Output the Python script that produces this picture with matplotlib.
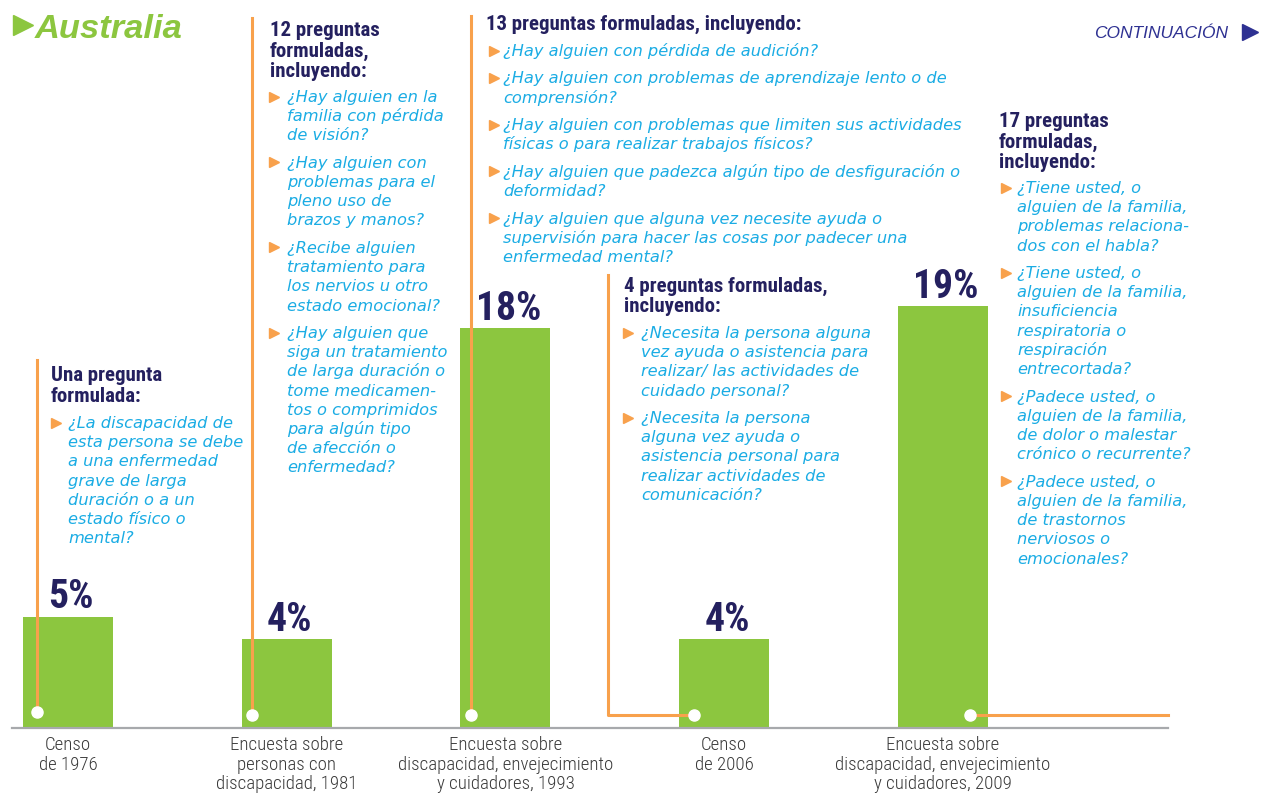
import matplotlib
matplotlib.use("Agg")
import matplotlib.pyplot as plt
import matplotlib.transforms as mtransforms
from matplotlib.lines import Line2D

W, H = 1262, 795

categories = [
    "Censo\nde 1976",
    "Encuesta sobre\npersonas con\ndiscapacidad, 1981",
    "Encuesta sobre\ndiscapacidad, envejecimiento\ny cuidadores, 1993",
    "Censo\nde 2006",
    "Encuesta sobre\ndiscapacidad, envejecimiento\ny cuidadores, 2009",
]
values = [5, 4, 18, 4, 19]
value_labels = ["5%", "4%", "18%", "4%", "19%"]

headings = [
    ["Una pregunta", "formulada:"],
    ["12 preguntas", "formuladas,", "incluyendo:"],
    ["13 preguntas formuladas, incluyendo:"],
    ["4 preguntas formuladas,", "incluyendo:"],
    ["17 preguntas", "formuladas,", "incluyendo:"],
]
questions = [
    [["¿La discapacidad de", "esta persona se debe", "a una enfermedad",
      "grave de larga", "duración o a un", "estado físico o", "mental?"]],
    [["¿Hay alguien en la", "familia con pérdida", "de visión?"],
     ["¿Hay alguien con", "problemas para el", "pleno uso de", "brazos y manos?"],
     ["¿Recibe alguien", "tratamiento para", "los nervios u otro", "estado emocional?"],
     ["¿Hay alguien que", "siga un tratamiento", "de larga duración o", "tome medicamen-",
      "tos o comprimidos", "para algún tipo", "de afección o", "enfermedad?"]],
    [["¿Hay alguien con pérdida de audición?"],
     ["¿Hay alguien con problemas de aprendizaje lento o de", "comprensión?"],
     ["¿Hay alguien con problemas que limiten sus actividades",
      "físicas o para realizar trabajos físicos?"],
     ["¿Hay alguien que padezca algún tipo de desfiguración o", "deformidad?"],
     ["¿Hay alguien que alguna vez necesite ayuda o",
      "supervisión para hacer las cosas por padecer una", "enfermedad mental?"]],
    [["¿Necesita la persona alguna", "vez ayuda o asistencia para",
      "realizar/ las actividades de", "cuidado personal?"],
     ["¿Necesita la persona", "alguna vez ayuda o", "asistencia personal para",
      "realizar actividades de", "comunicación?"]],
    [["¿Tiene usted, o", "alguien de la familia,", "problemas relaciona-", "dos con el habla?"],
     ["¿Tiene usted, o", "alguien de la familia,", "insuficiencia", "respiratoria o",
      "respiración", "entrecortada?"],
     ["¿Padece usted, o", "alguien de la familia,", "de dolor o malestar",
      "crónico o recurrente?"],
     ["¿Padece usted, o", "alguien de la familia,", "de trastornos", "nerviosos o",
      "emocionales?"]],
]

GREEN = "#8CC63F"
ORANGE = "#F8A14C"
NAVY = "#24205F"
BLUE = "#2E3192"
CYAN = "#1AACE4"
GRAY = "#A7A9AC"
NARROW = ["Roboto Condensed", "DejaVu Sans"]

fig = plt.figure(figsize=(W / 100, H / 100), dpi=100, facecolor="white")
# pixel coordinates measured from the top-left corner
px = mtransforms.Affine2D().scale(1 / W, -1 / H).translate(0, 1) + fig.transFigure

base = 727.5
left, right = 12, 1168
ax = fig.add_axes([left / W, (H - base) / H, (right - left) / W, base / H])
ax.set_facecolor("none")
step = 218.75
c0 = 68
ax.set_xlim((left - c0) / step, (right - c0) / step)
ax.set_ylim(0, base / 22.2)

x = list(range(len(values)))
bars = ax.bar(x, values, width=90 / step, color=GREEN, zorder=2)
for b, lab in zip(bars, value_labels):
    ax.annotate(lab, (b.get_x() + b.get_width() / 2, b.get_height()),
                xytext=(2, 5.8), textcoords="offset points", ha="center", va="baseline",
                fontsize=28.5, fontweight="bold", family=NARROW,
                color=NAVY, annotation_clip=False, zorder=5)

ax.set_xticks(x)
ax.set_xticklabels(categories, family=NARROW, fontweight="light", fontsize=13.6,
                   color="#3A3A3A", linespacing=1.12)
ax.tick_params(axis="x", length=0, pad=6)
ax.set_yticks([])
for s in ["top", "left", "right"]:
    ax.spines[s].set_visible(False)
ax.spines["bottom"].set_color(GRAY)
ax.spines["bottom"].set_linewidth(1.6)

# orange leader lines and white dots
leaders = [
    ([37, 37], [360, 712]),
    ([252, 252], [18, 715]),
    ([471, 471], [16, 715]),
    ([608, 608, 694], [275, 715, 715]),
    ([970, 1168], [715, 715]),
]
dots = [(37, 712), (252, 715), (471, 715), (694, 715), (970, 715)]
for lx, ly in leaders:
    fig.add_artist(Line2D(lx, ly, color=ORANGE, lw=2.2, transform=px, zorder=3))
for dx, dy in dots:
    fig.add_artist(Line2D([dx], [dy], marker="o", ms=8, color="white", mec="white",
                          transform=px, zorder=6))


def block(hx, hy, head, bx, tx, ty, paras):
    for i, line in enumerate(head):
        fig.text(hx, hy + i * 20.5, line, transform=px, family=NARROW,
                 fontweight="bold", fontsize=15, color=NAVY, va="baseline")
    y = ty
    for para in paras:
        fig.add_artist(Line2D([bx], [y - 5.5], marker=">", ms=7.5, color=ORANGE,
                              mec=ORANGE, transform=px))
        for line in para:
            fig.text(tx, y, line, transform=px, family="DejaVu Sans", style="italic",
                     fontsize=11.7, color=CYAN, va="baseline")
            y += 19.2
        y += 27.5 - 19.2


block(51, 381, headings[0], 55.5, 68, 428, questions[0])
block(270, 36, headings[1], 273.5, 287, 102, questions[1])
block(486, 30, headings[2], 494, 503, 56, questions[2])
block(624, 292, headings[3], 628, 641, 338, questions[3])
block(999, 127, headings[4], 1006, 1017, 193, questions[4])

# header
fig.add_artist(Line2D([22.5], [25], marker=">", ms=14.5, color=GREEN, mec=GREEN,
                      transform=px))
fig.text(35, 38, "Australia", transform=px, family="Liberation Sans", fontsize=24.8,
         fontweight="bold", style="italic", color=GREEN, va="baseline")
fig.text(1228, 38.5, "CONTINUACIÓN", transform=px, family="Liberation Sans", fontsize=12.5,
         style="italic", color=BLUE, va="baseline", ha="right")
fig.add_artist(Line2D([1250], [31.5], marker=">", ms=11, color=BLUE, mec=BLUE,
                      transform=px))

fig.savefig("out.png", dpi=100, facecolor="white")
